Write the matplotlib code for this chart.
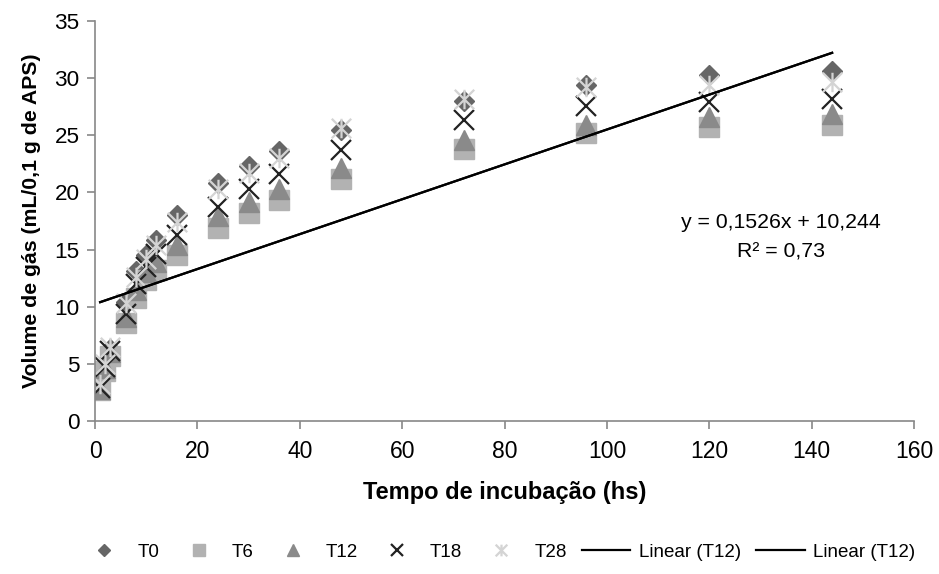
import matplotlib
matplotlib.use("Agg")
import matplotlib.pyplot as plt
import numpy as np
from matplotlib.path import Path

plt.rcParams['font.family'] = ['Liberation Sans', 'DejaVu Sans']

# incubation times (h) and gas volume per treatment
times = [1, 2, 3, 6, 8, 10, 12, 16, 24, 30, 36, 48, 72, 96, 120, 144]
t0 = [3.0, 4.8, 6.3, 10.4, 13.1, 14.5, 15.8, 18.0, 20.8, 22.3, 23.6, 25.5, 28.0, 29.4, 30.3, 30.6]
t6 = [2.7, 4.4, 5.7, 8.6, 10.8, 12.3, 13.2, 14.5, 16.9, 18.2, 19.3, 21.2, 23.8, 25.2, 25.7, 25.9]
t12 = [2.8, 4.6, 6.0, 9.1, 11.5, 13.0, 13.9, 15.4, 17.9, 19.2, 20.3, 22.1, 24.6, 25.9, 26.6, 26.9]
t18 = [2.9, 4.7, 6.1, 9.4, 12.0, 13.5, 14.6, 16.3, 18.7, 20.3, 21.6, 23.7, 26.3, 27.6, 27.9, 28.2]
t28 = [3.2, 5.0, 6.5, 10.3, 12.6, 14.2, 15.4, 17.4, 20.3, 21.7, 23.0, 25.6, 28.2, 29.2, 29.4, 29.7]

# trendline (Linear T12) as shown on the chart
slope = 0.1526
intercept = 10.244
eq_text = "y = 0,1526x + 10,244"
r2_text = "R² = 0,73"

# Excel-like "star" marker: an X with a vertical bar
star = Path([(-1, -1), (1, 1), (-1, 1), (1, -1), (0, -1), (0, 1)],
            [Path.MOVETO, Path.LINETO, Path.MOVETO, Path.LINETO, Path.MOVETO, Path.LINETO])

fig = plt.figure(figsize=(9.39, 5.74), dpi=100)
ax = fig.add_axes([0.1012, 0.2666, 0.8722, 0.6968])

ax.plot(times, t0, linestyle='none', marker='D', ms=10.5, color='#666666', mec='#666666', label='T0')
ax.plot(times, t6, linestyle='none', marker='s', ms=14, color='#b2b2b2', mec='#b2b2b2', label='T6')
ax.plot(times, t12, linestyle='none', marker='^', ms=14, color='#8a8a8a', mec='#8a8a8a', label='T12')
ax.plot(times, t18, linestyle='none', marker='x', ms=14, mew=1.6, color='#222222', label='T18')
ax.plot(times, t28, linestyle='none', marker=star, ms=14, mew=1.6, color='#d4d4d4', label='T28')

xs = np.array([min(times), max(times)])
ax.plot(xs, slope * xs + intercept, color='black', lw=1.6, label='Linear (T12)')
ax.plot(xs, slope * xs + intercept, color='black', lw=1.6, label='Linear (T12)')

ax.text(134, 17.4, eq_text, fontsize=15.3, ha='center', va='center')
ax.text(134, 14.8, r2_text, fontsize=15.3, ha='center', va='center')

ax.set_xlim(0, 160)
ax.set_ylim(0, 35)
ax.set_xticks(range(0, 161, 20))
ax.set_yticks(range(0, 36, 5))
for s in ['top', 'right']:
    ax.spines[s].set_visible(False)
for s in ['left', 'bottom']:
    ax.spines[s].set_color('#888888')
    ax.spines[s].set_linewidth(1.2)
ax.tick_params(colors='#888888', labelcolor='black', length=6, width=1.2, pad=5)
ax.tick_params(axis='x', labelsize=16.5, pad=8)
ax.tick_params(axis='y', labelsize=16.2)

ax.set_xlabel('Tempo de incubação (hs)', fontsize=17, fontweight='bold', labelpad=13)
ax.set_ylabel('Volume de gás (mL/0,1 g de APS)', fontsize=15.3, fontweight='bold', labelpad=10)

fig.legend(loc='center', bbox_to_anchor=(0.53, 0.038), ncol=7, frameon=False,
           fontsize=13.5, markerscale=0.6, handlelength=2.6, handletextpad=0.45,
           columnspacing=0.8)

fig.savefig('out.png', dpi=100)
